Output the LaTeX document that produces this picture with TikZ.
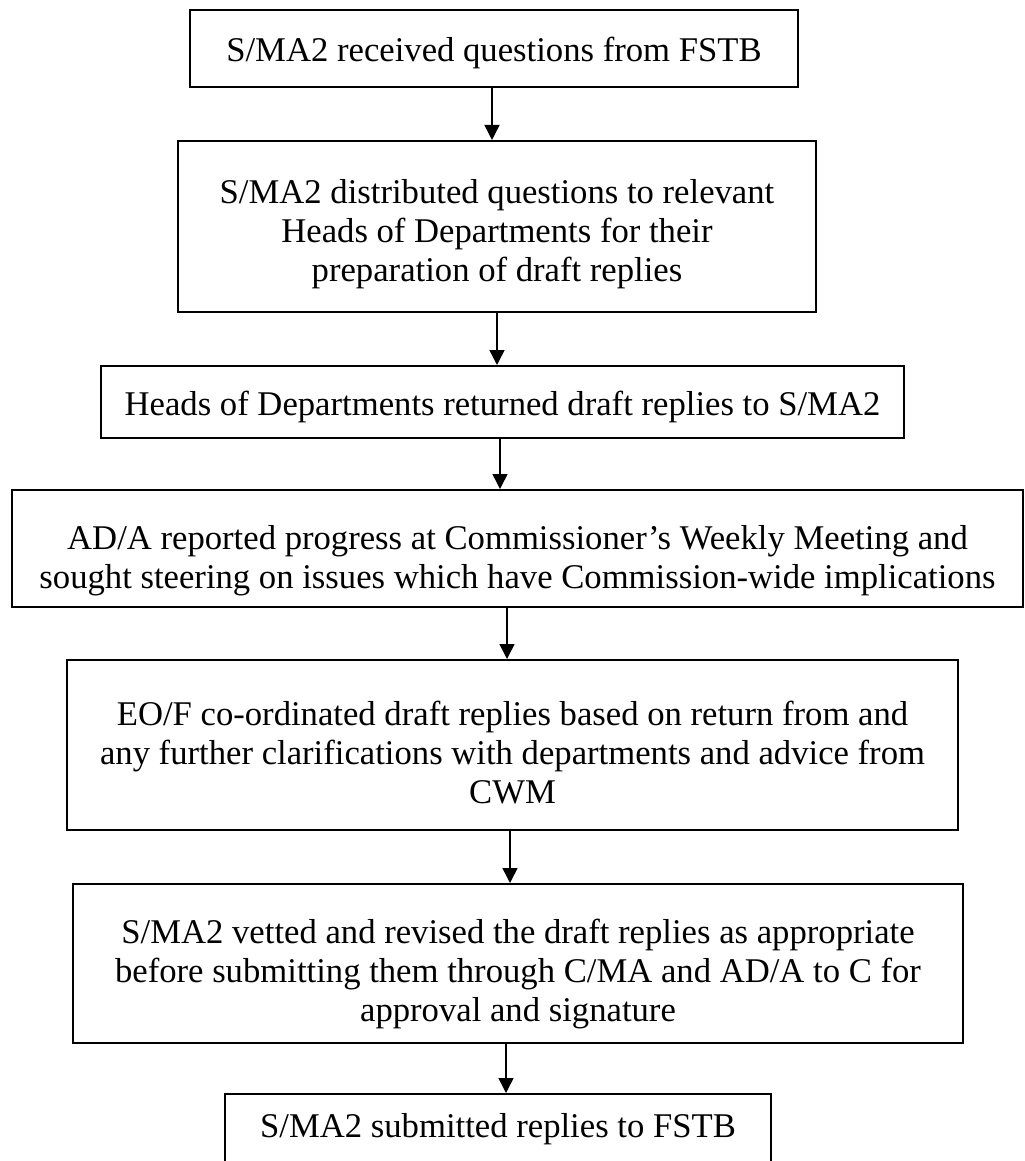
\documentclass[tikz,border=0pt]{standalone}
\usepackage{fontspec}
\setmainfont{Liberation Serif}
\usetikzlibrary{arrows.meta}

\tikzset{
  box/.style={draw, line width=0.6pt, inner sep=0pt},
  txt/.style={align=center, inner sep=0pt, font=\fontsize{10.4}{11.7}\selectfont},
  flow/.style={line width=0.45pt, -{Triangle[width=4.5pt,length=4.5pt]}}
}

\begin{document}
\begin{tikzpicture}[x=0.3pt,y=-0.3pt]
\useasboundingbox (0,0) rectangle (1025,1161);

% boxes
\node[box, minimum width=182.4pt, minimum height=23.1pt] (rcv) at (494,48.5) {};
\node[box, minimum width=191.4pt, minimum height=51.3pt] (dist) at (497,226.5) {};
\node[box, minimum width=240.9pt, minimum height=21.6pt] (ret) at (502.5,402) {};
\node[box, minimum width=303.3pt, minimum height=35.1pt] (cwm) at (517.5,548.5) {};
\node[box, minimum width=267.3pt, minimum height=51pt] (coord) at (512.5,745) {};
\node[box, minimum width=267pt, minimum height=47.7pt] (vet) at (518,963.5) {};
\node[box, minimum width=163.8pt, minimum height=21pt] (sub) at (498,1129) {};

% texts
\node[txt] (rcvtext) at (494,52.5) {S/MA2 received questions from FSTB};
\node[txt] (disttext) at (497,234.5)
  {S/MA2 distributed questions to relevant\\ Heads of Departments for their\\ preparation of draft replies};
\node[txt] (rettext) at (502.5,407) {Heads of Departments returned draft replies to S/MA2};
\node[txt] (cwmtext) at (517.5,560.5)
  {AD/A reported progress at Commissioner’s Weekly Meeting and\\ sought steering on issues which have Commission-wide implications};
\node[txt] (coordtext) at (512.5,753)
  {EO/F co-ordinated draft replies based on return from and\\ any further clarifications with departments and advice from\\ CWM};
\node[txt] (vettext) at (518,974.5)
  {S/MA2 vetted and revised the draft replies as appropriate\\ before submitting them through C/MA and AD/A to C for\\ approval and signature};
\node[txt] (subtext) at (498,1129) {S/MA2 submitted replies to FSTB};

\foreach \a/\b/\x in {rcv/dist/492, dist/ret/497, ret/cwm/500, cwm/coord/507, coord/vet/510, vet/sub/506} {
\draw[flow] (\a.south -| \x,0) -- (\b.north -| \x,0);
}
\end{tikzpicture}
\end{document}
